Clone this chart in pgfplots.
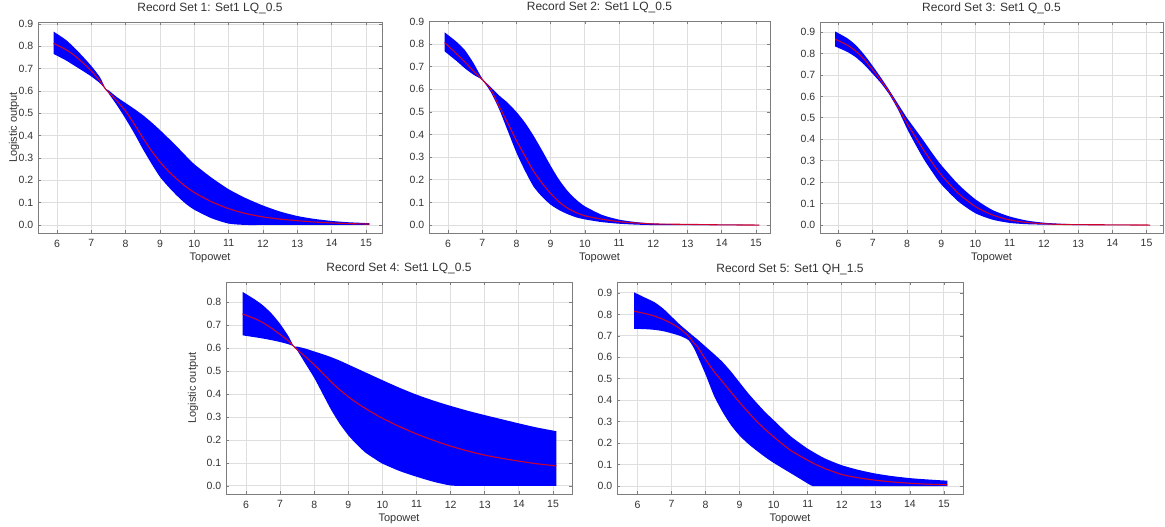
\documentclass[border=0pt]{standalone}
\usepackage{fontspec}
\setmainfont{Liberation Sans}
\usepackage{pgfplots}
\usepackage{pgfplotstable}
\pgfplotsset{compat=1.18}
\usepgfplotslibrary{fillbetween}

\definecolor{bandblue}{RGB}{0,0,255}
\definecolor{midred}{RGB}{205,0,45}
\definecolor{framegray}{RGB}{125,125,125}
\definecolor{gridgray}{RGB}{222,222,222}
\definecolor{txt}{RGB}{50,50,50}

\pgfplotstableread{
x lo mid hi
5.9  0.766 0.813 0.866
6.25 0.738 0.786 0.830
6.5  0.714 0.760 0.795
6.75 0.690 0.727 0.755
7.0  0.665 0.690 0.712
7.25 0.635 0.645 0.662
7.42 0.607 0.607 0.609
7.5  0.590 0.595 0.603
7.75 0.535 0.555 0.572
8.0  0.475 0.510 0.546
8.25 0.410 0.452 0.520
8.5  0.340 0.390 0.492
8.75 0.275 0.333 0.460
9.0  0.215 0.282 0.425
9.25 0.170 0.240 0.388
9.5  0.130 0.204 0.350
9.75 0.095 0.172 0.310
10.0 0.068 0.145 0.272
10.5 0.030 0.104 0.212
11.0 0.006 0.073 0.160
11.5 0.000 0.051 0.120
12.0 0.000 0.036 0.087
12.5 0.000 0.026 0.060
13.0 0.000 0.019 0.040
13.5 0.000 0.013 0.027
14.0 0.000 0.009 0.018
14.5 0.000 0.006 0.012
15.1 0.000 0.004 0.008
}\setA

\pgfplotstableread{
x lo mid hi
5.9  0.768 0.807 0.852
6.25 0.725 0.757 0.810
6.5  0.692 0.720 0.772
6.75 0.664 0.680 0.715
7.0  0.641 0.643 0.648
7.25 0.588 0.600 0.610
7.5  0.510 0.523 0.572
7.75 0.415 0.450 0.540
8.0  0.320 0.374 0.500
8.25 0.240 0.305 0.453
8.5  0.170 0.238 0.395
8.75 0.125 0.185 0.330
9.0  0.090 0.140 0.262
9.25 0.066 0.102 0.200
9.5  0.048 0.074 0.150
9.75 0.034 0.055 0.112
10.0 0.025 0.041 0.083
10.5 0.013 0.026 0.045
11.0 0.006 0.015 0.024
11.5 0.002 0.009 0.013
12.0 0.000 0.005 0.007
12.5 0.000 0.004 0.004
13.0 0.000 0.003 0.003
14.0 0.000 0.001 0.002
15.1 0.000 0.000 0.001
}\setB

\pgfplotstableread{
x lo mid hi
5.9  0.833 0.867 0.903
6.25 0.808 0.840 0.872
6.5  0.783 0.812 0.840
6.75 0.748 0.773 0.795
7.0  0.705 0.724 0.742
7.25 0.660 0.672 0.685
7.5  0.605 0.615 0.625
7.75 0.535 0.547 0.562
8.0  0.450 0.475 0.500
8.25 0.375 0.410 0.445
8.5  0.305 0.347 0.390
8.75 0.245 0.288 0.333
9.0  0.190 0.234 0.280
9.5  0.110 0.148 0.190
10.0 0.055 0.086 0.120
10.5 0.025 0.047 0.070
11.0 0.010 0.024 0.040
11.5 0.004 0.012 0.021
12.0 0.002 0.006 0.011
12.5 0.001 0.003 0.006
13.0 0.000 0.002 0.003
14.0 0.000 0.001 0.001
15.1 0.000 0.000 0.000
}\setC

\pgfplotstableread{
x lo mid hi
5.9  0.655 0.748 0.844
6.25 0.647 0.728 0.812
6.5  0.641 0.710 0.785
6.75 0.634 0.686 0.750
7.0  0.626 0.659 0.705
7.25 0.616 0.630 0.650
7.4  0.607 0.607 0.608
7.5  0.590 0.593 0.606
7.75 0.530 0.561 0.597
8.0  0.470 0.527 0.585
8.25 0.400 0.490 0.573
8.5  0.330 0.452 0.560
8.75 0.270 0.418 0.545
9.0  0.220 0.388 0.528
9.25 0.180 0.361 0.511
9.5  0.145 0.337 0.494
9.75 0.120 0.315 0.477
10.0 0.097 0.294 0.460
10.5 0.065 0.258 0.427
11.0 0.040 0.226 0.397
11.5 0.018 0.198 0.371
12.0 0.002 0.173 0.348
12.5 0.000 0.152 0.327
13.0 0.000 0.134 0.308
13.5 0.000 0.120 0.290
14.0 0.000 0.108 0.272
14.5 0.000 0.097 0.255
15.1 0.000 0.087 0.238
}\setD

\pgfplotstableread{
x lo mid hi
5.9  0.733 0.815 0.903
6.25 0.731 0.803 0.876
6.5  0.728 0.792 0.857
6.75 0.722 0.777 0.828
7.0  0.712 0.758 0.790
7.25 0.700 0.733 0.752
7.5  0.680 0.699 0.718
7.65 0.645 0.668 0.698
7.75 0.612 0.652 0.685
8.0  0.520 0.590 0.650
8.25 0.420 0.533 0.615
8.5  0.345 0.486 0.578
8.75 0.283 0.437 0.533
9.0  0.235 0.390 0.483
9.25 0.197 0.345 0.433
9.5  0.165 0.302 0.388
9.75 0.135 0.264 0.345
10.0 0.108 0.229 0.307
10.5 0.060 0.166 0.232
11.0 0.012 0.120 0.174
11.15 0.000 0.107 0.160
11.5 0.000 0.082 0.129
12.0 0.000 0.054 0.097
12.5 0.000 0.038 0.075
13.0 0.000 0.027 0.058
13.5 0.000 0.019 0.046
14.0 0.000 0.013 0.037
14.5 0.000 0.009 0.031
15.1 0.000 0.006 0.025
}\setE

\pgfplotsset{
  /pgf/number format/assume math mode=true,
  rs/.style={
    scale only axis, anchor=south west,
    xtick={6,7,8,9,10,11,12,13,14,15},
    ytick={0,0.1,0.2,0.3,0.4,0.5,0.6,0.7,0.8,0.9},
    grid=major,
    major grid style={gridgray, line width=0.9pt},
    axis line style={framegray, line width=0.9pt},
    tick style={framegray, line width=0.7pt},
    tick align=inside,
    major tick length=3pt,
    xtick pos=both, ytick pos=both,
    xticklabel pos=lower, yticklabel pos=left,
    tick label style={font=\fontsize{10.5}{12}\selectfont, text=txt, inner sep=0pt},
    xticklabel style={anchor=north, yshift=-6.5pt},
    yticklabel style={anchor=east, xshift=-4.5pt,
      /pgf/number format/.cd, fixed, fixed zerofill, precision=1},
    title style={font=\fontsize{12}{14}\selectfont, text=txt, at={(axis description cs:0.5,1)}, anchor=base, yshift=4pt, inner sep=0pt},
    xlabel style={font=\fontsize{11}{12}\selectfont, text=txt, at={(axis description cs:0.5,0)}, anchor=base, yshift=-27.5pt, inner sep=0pt},
    ylabel style={font=\fontsize{11}{12}\selectfont, text=txt, inner sep=0pt, anchor=center},
    xlabel={Topowet},
  },
}

\newcommand{\band}[1]{%
  \addplot[name path=U, draw=none, smooth, tension=0.4] table[x=x, y=hi] {#1};
  \addplot[name path=L, draw=none, smooth, tension=0.4] table[x=x, y=lo] {#1};
  \addplot[bandblue, draw=none] fill between[of=U and L];
  \addplot[midred, line width=1.1pt, smooth, tension=0.4] table[x=x, y=mid] {#1};
}

\begin{document}
\begin{tikzpicture}

\begin{axis}[rs, at={(38pt,294pt)}, width=344pt, height=211pt,
  xmin=5.447, xmax=15.466, ymin=-0.036, ymax=0.909,
  title={Record Set 1: Set1 LQ\_0.5},
  ylabel={Logistic output},
  ylabel style={at={(axis description cs:-0.0698,0.5)}}]
\band{\setA}
\end{axis}

\begin{axis}[rs, at={(429pt,294pt)}, width=341pt, height=212pt,
  xmin=5.445, xmax=15.41, ymin=-0.035, ymax=0.902,
  title={Record Set 2: Set1 LQ\_0.5}]
\band{\setB}
\end{axis}

\begin{axis}[rs, at={(820pt,294pt)}, width=343pt, height=211pt,
  xmin=5.46, xmax=15.48, ymin=-0.037, ymax=0.947,
  title={Record Set 3: Set1 Q\_0.5}]
\band{\setC}
\end{axis}

\begin{axis}[rs, at={(226pt,33pt)}, width=346pt, height=212pt,
  xmin=5.415, xmax=15.555, ymin=-0.035, ymax=0.887,
  ytick={0,0.1,0.2,0.3,0.4,0.5,0.6,0.7,0.8},
  title={Record Set 4: Set1 LQ\_0.5},
  ylabel={Logistic output},
  ylabel style={at={(axis description cs:-0.0954,0.5)}}]
\band{\setD}
\end{axis}

\begin{axis}[rs, at={(617pt,33pt)}, width=346pt, height=212pt,
  xmin=5.40, xmax=15.56, ymin=-0.037, ymax=0.951,
  title={Record Set 5: Set1 QH\_1.5}]
\band{\setE}
\end{axis}

\useasboundingbox (0,0) rectangle (1165pt,527pt);
\end{tikzpicture}
\end{document}
